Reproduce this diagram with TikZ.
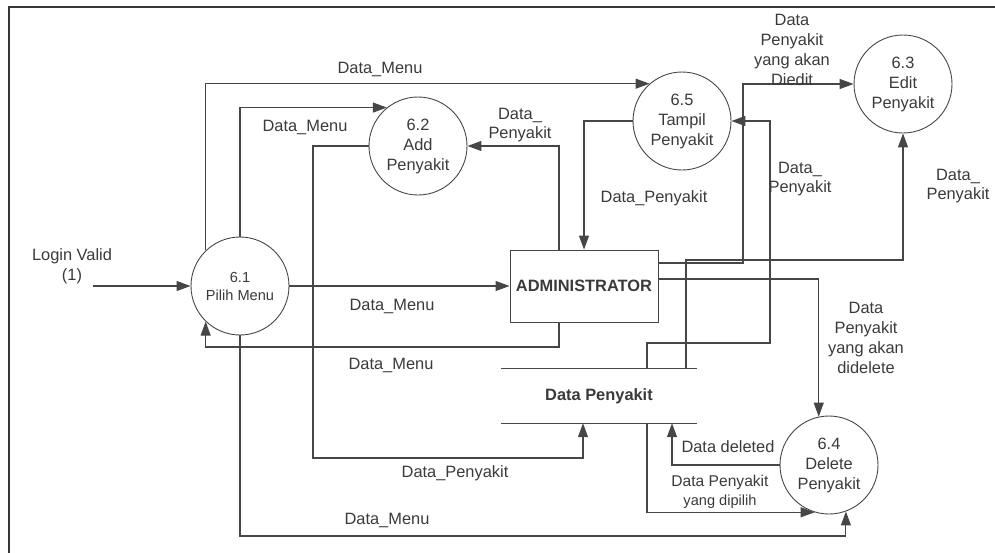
\documentclass[tikz,border=0pt]{standalone}
\usepackage{fontspec}
\setmainfont{Liberation Sans}
\usetikzlibrary{arrows.meta}
\definecolor{ink}{RGB}{70,70,70}
\definecolor{txt}{RGB}{58,58,58}
\definecolor{frame}{RGB}{55,55,55}
\begin{document}
\begin{tikzpicture}[x=1pt,y=-1pt,
  lbl/.style={font=\fontsize{16.4}{19.5}\selectfont, text=txt, align=center, inner sep=0pt},
  proc/.style={circle, draw=ink, line width=0.9pt, minimum size=98pt, inner sep=0pt,
    align=center, font=\fontsize{16.4}{20}\selectfont, text=txt},
  flow/.style={draw=ink, line width=1.1pt, -{Triangle[length=14pt,width=10pt]}},
  wire/.style={draw=ink, line width=1.1pt}]
\useasboundingbox (0,0) rectangle (995,552);

% outer frame
\draw[frame, line width=1.6pt] (9,560) -- (9,7) -- (1000,7);

% processes
\node[proc, font=\fontsize{14.6}{18}\selectfont] (p61) at (240,286) {6.1\\Pilih Menu};
\node[proc] (p62) at (418,146) {6.2\\Add\\Penyakit};
\node[proc] (p65) at (682,121) {6.5\\Tampil\\Penyakit};
\node[proc] (p63) at (903,84) {6.3\\Edit\\Penyakit};
\node[proc] (p64) at (829,465) {6.4\\Delete\\Penyakit};

% external entity
\node[draw=ink, line width=0.9pt, minimum width=148pt, minimum height=72pt, inner sep=0pt,
  font=\bfseries\fontsize{16.4}{20}\selectfont, text=txt] (admin) at (584,286) {ADMINISTRATOR};

% data store
\node[minimum width=196pt, minimum height=54pt, inner sep=0pt,
  font=\bfseries\fontsize{16.4}{20}\selectfont, text=txt] (store) at (599,396) {Data Penyakit};
\draw[wire] (store.north west) -- (store.north east);
\draw[wire] (store.south west) -- (store.south east);

% flows
\coordinate (login) at (93,286);
\draw[flow] (login) -- (p61.west);
\draw[flow] (p61.east) -- (admin.west);
\draw[flow] (p61.134) |- (p65.131);
\draw[flow] (p61.north) |- (p62.129);
\draw[flow] (p62.west) -| (313,458) -| ([xshift=-16pt]store.south);
\draw[flow] ([xshift=-25pt]admin.north) |- (p62.east);
\draw[flow] (p65.west) -| (admin.north);
\draw[flow] ([xshift=-25pt]admin.south) -- (559,347) -| (p61.226);
\draw[flow] (p61.south) -- (240,536) -| (p64.290);
\draw[flow] ([yshift=23pt]admin.east) -- (743,263) |- (p63.west);
\draw[flow] ([xshift=87pt]store.north) -- (686,260) -| (p63.south);
\draw[flow] ([xshift=48pt]store.north) -- (647,343) -- (770,343) |- (p65.east);
\draw[flow] ([yshift=7pt]admin.east) -| (p64.102);
\draw[flow] (p64.west) -| ([xshift=73pt]store.south);
\draw[flow] ([xshift=48pt]store.south) |- (p64.253);

% labels
\node[lbl] (tLogin) at (72,266) {Login Valid\\(1)};
\node[lbl] (tM1) at (380,69) {Data\_Menu};
\node[lbl] (tM2) at (305,127) {Data\_Menu};
\node[lbl] (tM3) at (392,306) {Data\_Menu};
\node[lbl] (tM4) at (391,365) {Data\_Menu};
\node[lbl] (tM5) at (387,520) {Data\_Menu};
\node[lbl] (tP1) at (520,125) {Data\_\\Penyakit};
\node[lbl] (tP2) at (654,198) {Data\_Penyakit};
\node[lbl] (tP3) at (455,473) {Data\_Penyakit};
\node[lbl] (tP4) at (800,179) {Data\_\\Penyakit};
\node[lbl] (tP5) at (958,186) {Data\_\\Penyakit};
\node[lbl, font=\fontsize{16.4}{20}\selectfont] (tEdit) at (792,50) {Data\\Penyakit\\yang akan\\Diedit};
\node[lbl, font=\fontsize{16.4}{20}\selectfont] (tDel) at (866,338) {Data\\Penyakit\\yang akan\\didelete};
\node[lbl] (tDeleted) at (728,447) {Data deleted};
\node[lbl, font=\fontsize{15.6}{19}\selectfont] (tPilih) at (720,492) {Data Penyakit\\{\fontsize{14.6}{19}\selectfont yang dipilih}};
\end{tikzpicture}
\end{document}
